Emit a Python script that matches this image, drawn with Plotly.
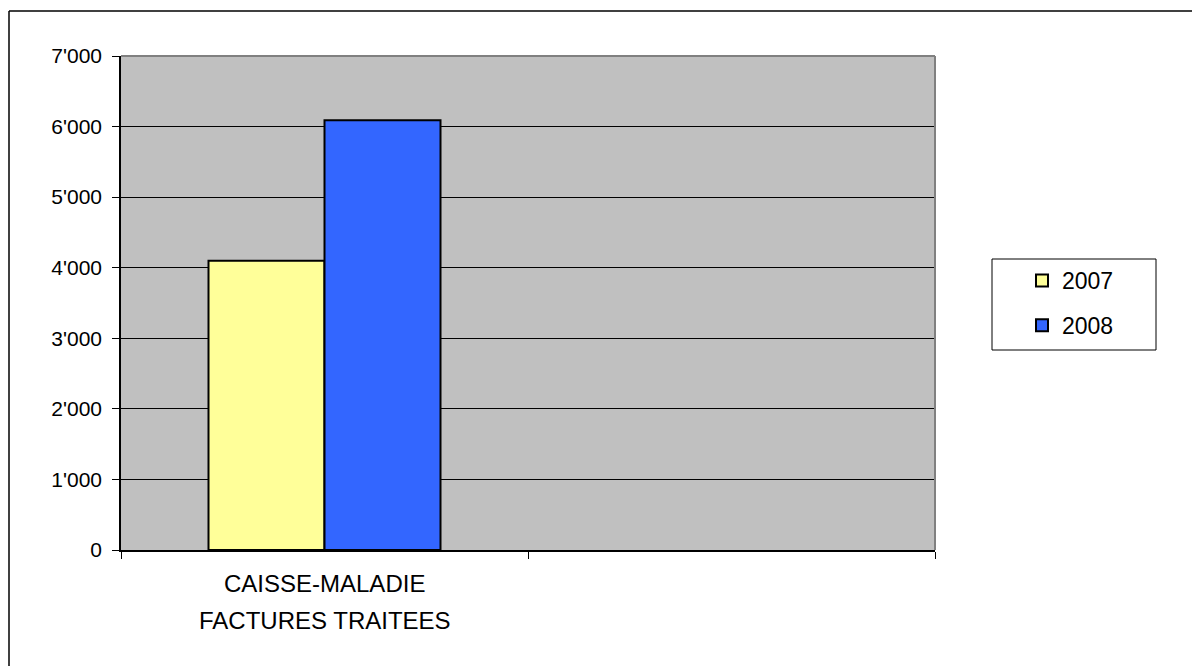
import plotly.graph_objects as go

categories = ["CAISSE-MALADIE FACTURES TRAITEES", ""]
label_lines = ["CAISSE-MALADIE", "FACTURES TRAITEES"]
series_names = ["2007", "2008"]
values_2007 = [4100, None]
values_2008 = [6090, None]
colors = ["#FFFF99", "#3366FF"]
y_ticks = [0, 1000, 2000, 3000, 4000, 5000, 6000, 7000]

W, H = 1192, 666
L, R, T, B = 121, 935, 56, 550

def px(x):
    return (x - L) / (R - L)

def py(y):
    return (B - y) / (B - T)

fig = go.Figure()
for name, vals, col in zip(series_names, [values_2007, values_2008], colors):
    fig.add_trace(go.Bar(
        x=categories, y=vals, name=name, legendgroup=name,
        marker=dict(color=col, line=dict(color="black", width=2)),
    ))

font = "Liberation Sans, Arial, sans-serif"
shapes = [
    # outer frame (left and top)
    dict(type="line", xref="paper", yref="paper", x0=px(9), x1=px(9), y0=py(11), y1=py(H + 5),
         line=dict(color="black", width=1.5)),
    dict(type="line", xref="paper", yref="paper", x0=px(9), x1=px(W + 5), y0=py(11), y1=py(11),
         line=dict(color="black", width=1.5)),
    # plot area border top / right (gray)
    dict(type="line", xref="paper", yref="paper", x0=0, x1=1, y0=1, y1=1,
         line=dict(color="#808080", width=2)),
    dict(type="line", xref="paper", yref="paper", x0=1, x1=1, y0=0, y1=1,
         line=dict(color="#808080", width=2)),
    # legend box
    dict(type="rect", xref="paper", yref="paper", x0=px(992), x1=px(1156), y0=py(350), y1=py(259),
         line=dict(color="black", width=1), fillcolor="white", layer="below"),
]

annotations = []
for i, line in enumerate(label_lines):
    annotations.append(dict(
        x=categories[0], xref="x", y=py(583 + i * 37), yref="paper",
        text=line, showarrow=False, xanchor="center", yanchor="middle",
        font=dict(family=font, size=24, color="black"),
    ))

fig.update_layout(
    width=W, height=H,
    margin=dict(l=L, r=W - R, t=T, b=H - B),
    paper_bgcolor="white", plot_bgcolor="#C0C0C0",
    separators=".'",
    barmode="group", bargap=0.43, bargroupgap=0,
    font=dict(family=font, size=21, color="black"),
    showlegend=True,
    legend=dict(
        x=px(1022), y=py(259), xanchor="left", yanchor="top",
        bgcolor="rgba(0,0,0,0)", borderwidth=0,
        font=dict(family=font, size=23, color="black"),
        traceorder="grouped", tracegroupgap=12, itemwidth=30,
    ),
    shapes=shapes,
    annotations=annotations,
    xaxis=dict(
        type="category", showticklabels=False,
        showline=True, linecolor="black", linewidth=1.5,
        ticks="outside", tickson="boundaries", ticklen=7, tickcolor="black",
        showgrid=False,
    ),
    yaxis=dict(
        range=[0, 7000], tickvals=y_ticks, tickformat=",d",
        showline=True, linecolor="black", linewidth=1.5,
        ticks="outside", ticklen=7, tickcolor="black",
        showgrid=True, gridcolor="black", gridwidth=1,
        zeroline=False,
        tickfont=dict(family=font, size=21, color="black"),
        ticklabelstandoff=6,
    ),
)

fig.write_html("out.html", config={"displayModeBar": False},
               post_script="document.body.style.margin='0';document.body.style.overflow='hidden';")
